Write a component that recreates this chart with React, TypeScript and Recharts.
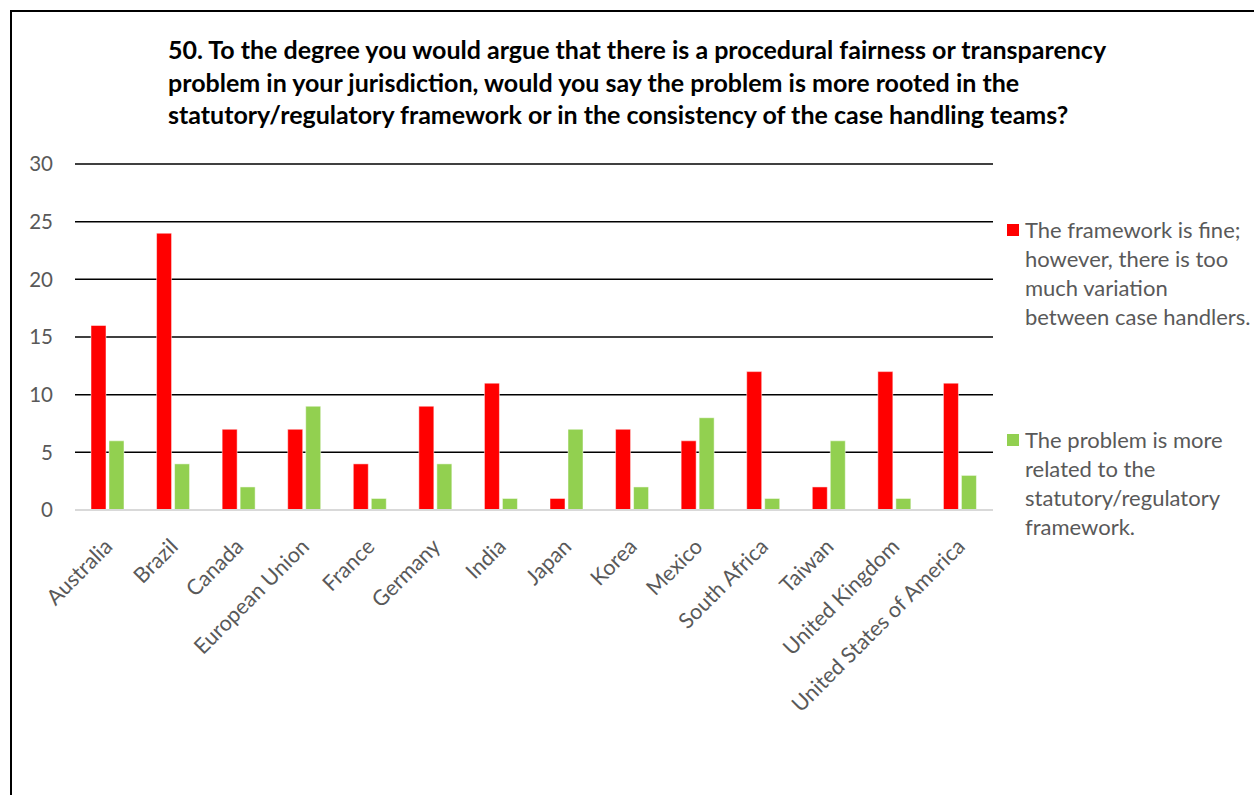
import React from "react";
import { BarChart, Bar, XAxis, YAxis, CartesianGrid, Legend } from "recharts";

const categories = [
  "Australia", "Brazil", "Canada", "European Union", "France", "Germany", "India",
  "Japan", "Korea", "Mexico", "South Africa", "Taiwan", "United Kingdom", "United States of America",
];
const frameworkFine = [16, 24, 7, 7, 4, 9, 11, 1, 7, 6, 12, 2, 12, 11];
const statutoryProblem = [6, 4, 2, 9, 1, 4, 1, 7, 2, 8, 1, 6, 1, 3];
const yTicks = [0, 5, 10, 15, 20, 25, 30];
const titleLines = [
  "50. To the degree you would argue that there is a procedural fairness or transparency",
  "problem in your jurisdiction, would you say the problem is more rooted in the",
  "statutory/regulatory framework or in the consistency of the case handling teams?",
];
const seriesNames = [
  "The framework is fine; however, there is too much variation between case handlers.",
  "The problem is more related to the statutory/regulatory framework.",
];
const legendLines = [
  ["The framework is fine;", "however, there is too", "much variation", "between case handlers."],
  ["The problem is more", "related to the", "statutory/regulatory", "framework."],
];
const colors = ["#FF0000", "#92D050"];

const data = categories.map((c, i) => ({
  name: c,
  fine: frameworkFine[i],
  statutory: statutoryProblem[i],
}));

const FONT = "Lato, 'Open Sans', sans-serif";
const GRAY = "#595959";

const XTick = (props: any) => {
  const { x, y, payload } = props;
  const ax = x + 6;
  const ay = y + 30;
  return (
    <text
      x={ax}
      y={ay}
      transform={`rotate(-45, ${ax}, ${ay})`}
      textAnchor="end"
      fill={GRAY}
      fontSize={21.5}
      fontFamily={FONT}
    >
      {payload.value}
    </text>
  );
};

const LegendContent = (props: any) => {
  const payload = props.payload || [];
  return (
    <div style={{ fontFamily: FONT, fontSize: 22, color: GRAY, lineHeight: "29px" }}>
      {payload.map((p: any, i: number) => (
        <div key={i} style={{ position: "relative", paddingLeft: 20, marginTop: i === 0 ? 0 : 94 }}>
          <span
            style={{
              position: "absolute",
              left: 2,
              top: 9,
              width: 12,
              height: 12,
              background: p.color,
            }}
          />
          {legendLines[i].map((l, j) => (
            <div key={j} style={{ whiteSpace: "nowrap" }}>{l}</div>
          ))}
        </div>
      ))}
    </div>
  );
};

export default function App() {
  return (
    <div style={{ position: "fixed", left: 0, top: 0, width: 1254, height: 795, background: "#fff", overflow: "hidden" }}>
      <div
        style={{
          position: "absolute",
          left: 10,
          top: 10,
          width: 1300,
          height: 820,
          borderTop: "2px solid #000",
          borderLeft: "2px solid #000",
        }}
      />
      <div
        style={{
          position: "absolute",
          left: 168,
          top: 33,
          fontFamily: FONT,
          fontWeight: 700,
          fontSize: 25,
          lineHeight: "32.5px",
          color: "#000",
          whiteSpace: "nowrap",
        }}
      >
        {titleLines.map((l, i) => (
          <div key={i}>{l}</div>
        ))}
      </div>
      <div style={{ position: "absolute", left: 0, top: 0 }}>
        <BarChart
          width={1254}
          height={795}
          data={data}
          margin={{ top: 164, right: 261, bottom: 135, left: 15 }}
          barSize={15}
          barGap={3}
        >
          <CartesianGrid
            vertical={false}
            stroke="#000"
            strokeWidth={1.5}
            horizontalValues={[5, 10, 15, 20, 25, 30]}
          />
          <XAxis
            dataKey="name"
            interval={0}
            height={150}
            tickLine={false}
            axisLine={{ stroke: "#D9D9D9", strokeWidth: 2 }}
            tick={<XTick />}
          />
          <YAxis
            width={60}
            domain={[0, 30]}
            ticks={yTicks}
            axisLine={false}
            tickLine={false}
            tickSize={0}
            tickMargin={22}
            tick={{ fill: GRAY, fontSize: 20.5, fontFamily: FONT }}
          />
          <Legend
            layout="vertical"
            align="center"
            verticalAlign="middle"
            wrapperStyle={{ left: 1005, top: 215, width: 249 }}
            content={<LegendContent />}
          />
          <Bar dataKey="fine" name={seriesNames[0]} fill={colors[0]} stroke="#fff" strokeWidth={0.5} isAnimationActive={false} />
          <Bar dataKey="statutory" name={seriesNames[1]} fill={colors[1]} stroke="#fff" strokeWidth={0.5} isAnimationActive={false} />
        </BarChart>
      </div>
    </div>
  );
}
